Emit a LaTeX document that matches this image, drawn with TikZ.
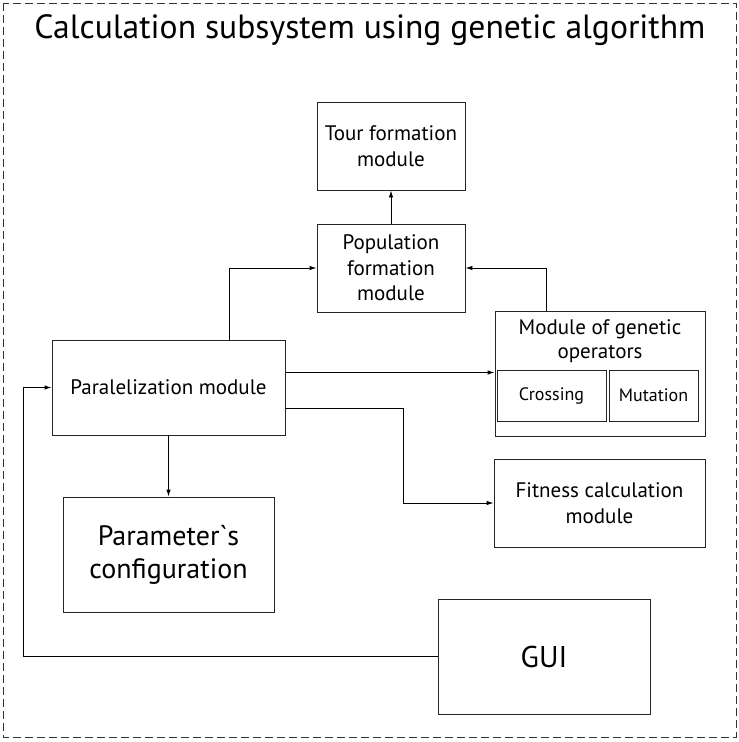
\documentclass[tikz,border=0pt]{standalone}
\usepackage{fontspec}
\setmainfont[Ligatures=TeXOff]{PT Sans}
\usetikzlibrary{arrows.meta,calc}
\begin{document}
\begin{tikzpicture}[x=1pt,y=-1pt,
  box/.style={draw=black!85,line width=0.9pt,rectangle,inner sep=0pt,align=center},
  arr/.style={line width=0.9pt,-{Latex[length=7pt,width=4.5pt]}},
  txt/.style={font={\fontsize{21}{25.5}\selectfont}}]
\useasboundingbox (0,0) rectangle (739,742);
\draw[black!80,line width=0.9pt,dash pattern=on 8pt off 4pt] (3,3) rectangle (736,737);
\node[anchor=base,font={\fontsize{33.6}{40}\selectfont}] (title) at (370,38) {Calculation subsystem using genetic algorithm};
\node[box,txt,minimum width=148pt,minimum height=88pt] (tour) at (391,146) {Tour formation\\module};
\node[box,txt,minimum width=148pt,minimum height=88pt] (pop) at (391,268) {Population\\formation\\module};
\node[box,minimum width=210pt,minimum height=125pt] (gen) at (600,373.5) {};
\node[align=center,inner sep=0pt,font={\fontsize{21}{24}\selectfont}] (gentxt) at (600,341) {Module of genetic\\operators};
\node[box,minimum width=109pt,minimum height=51pt,font={\fontsize{18}{20}\selectfont}] (cross) at (551.5,395.5) {Crossing};
\node[box,minimum width=89pt,minimum height=51pt,font={\fontsize{18}{20}\selectfont}] (mut) at (653.5,395.5) {Mutation};
\node[box,txt,minimum width=233pt,minimum height=95pt] (par) at (168.5,387.5) {Paralelization module};
\node[box,txt,minimum width=211pt,minimum height=88pt] (fit) at (599.5,503) {Fitness calculation\\module};
\node[box,minimum width=211pt,minimum height=115pt,font={\fontsize{28}{33}\selectfont}] (param) at (168.5,554.5) {Parameter`s\\configuration};
\node[box,minimum width=212pt,minimum height=115pt,font={\fontsize{30}{34}\selectfont}] (gui) at (544,656.5) {GUI};
\coordinate (xa) at (229,0);
\coordinate (xb) at (546,0);
\coordinate (xc) at (403,0);
\coordinate (xd) at (23,0);
\coordinate (ya) at (0,372.5);
\coordinate (yb) at (0,408);
\draw[arr] (pop.north) -- (tour.south);
\draw[arr] (par.north -| xa) |- (pop.west);
\draw[arr] (gen.north -| xb) |- (pop.east);
\draw[arr] (par.east |- ya) -- (gen.west |- ya);
\draw[arr] (par.east |- yb) -- (xc |- yb) |- (fit.west);
\draw[arr] (par.south) -- (param.north);
\draw[arr] (gui.west) -- (xd |- gui.west) |- (par.west);
\end{tikzpicture}
\end{document}
